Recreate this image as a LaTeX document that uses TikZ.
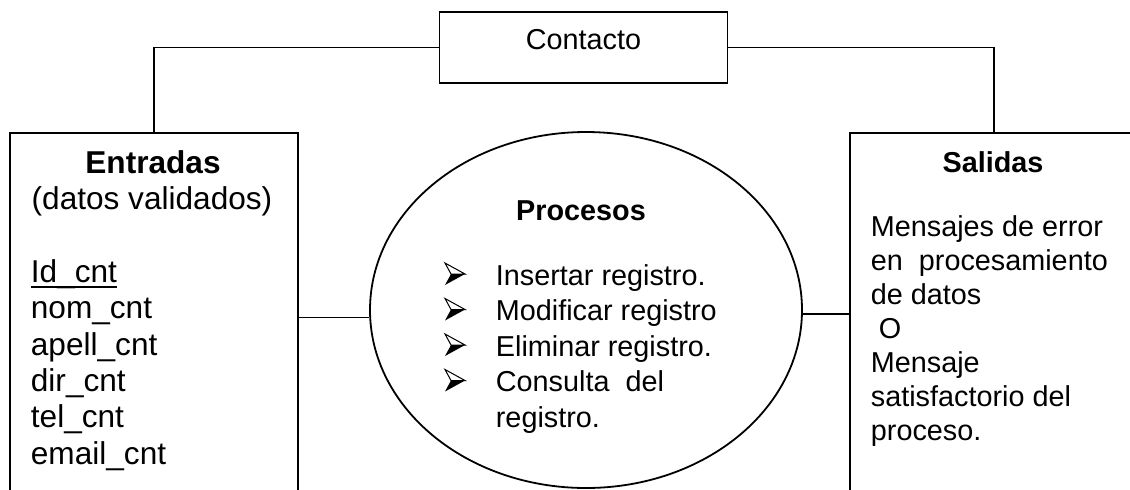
\documentclass[tikz,border=0pt]{standalone}
\usepackage{fontspec}
\setmainfont{Liberation Sans}
\usetikzlibrary{shapes.geometric}

% subrayado grueso como en el original
\newcommand{\subrayar}[1]{\setbox0\hbox{#1}\rlap{\rule[-3.1pt]{\wd0}{1pt}}\box0}

\begin{document}
\begin{tikzpicture}[x=0.5pt, y=-0.5pt, line width=0.9pt,
    caja/.style={draw, rectangle, inner sep=0pt, minimum width=144pt},
    proceso/.style={draw, ellipse, inner sep=0pt, minimum width=216pt, minimum height=178pt},
    titulo/.style={font=\bfseries\fontsize{14.4}{17}\selectfont, anchor=base, inner sep=0pt},
    texto/.style={font=\fontsize{14.4}{17}\selectfont, anchor=base west, inner sep=0pt},
    campo/.style={font=\fontsize{15.8}{18.2}\selectfont, anchor=base west, inner sep=0pt},
    flecha/.pic={
      \draw[line width=0.5pt, line join=miter] (10,0) -- (-10,-11) -- (-4,0) -- cycle;
      \fill (10,0) -- (-4,0) -- (-10,11) -- cycle;
    }]
  \useasboundingbox (0,0) rectangle (1130,489);
  \clip (0,0) rectangle (1130,489);

  % cajas y proceso
  \node[caja, minimum height=35.5pt, font=\fontsize{14.4}{17}\selectfont, text depth=8pt] (contacto) at (583.5,47.5) {Contacto};
  \node[caja, minimum height=200pt, anchor=north west] (entradas) at (9,132) {};
  \node[caja, minimum height=200pt, anchor=north west] (salidas) at (849,132) {};
  \node[proceso] (procesos) at (586,310) {};

  % conexiones
  \draw (contacto.west) -| (entradas.north);
  \draw (contacto.east) -| (salidas.north);
  \draw (procesos.182) -- (procesos.182 -| entradas.east);
  \draw (procesos.359) -- (procesos.359 -| salidas.west);

  % entradas
  \node[campo, font=\bfseries\fontsize{15.8}{18.2}\selectfont, anchor=base] (tent) at (153,173) {Entradas};
  \node[campo, anchor=base] (datos) at (152,209.4) {(datos validados)};
  \foreach \dato [count=\i from 0] in {\subrayar{Id\_cnt}, nom\_cnt, apell\_cnt, dir\_cnt, tel\_cnt, email\_cnt}
    \node[campo] (ent\i) at (30, 282.2+36.4*\i) {\dato};

  % procesos
  \node[titulo] (tpro) at (581,220) {Procesos};
  \foreach \op [count=\i from 0] in {Insertar registro., Modificar registro, Eliminar registro., Consulta\ \ del}
  {
    \pic (fl\i) at (455, 274+35.5*\i) {flecha};
    \node[texto] (op\i) at (495, 285+35.5*\i) {\op};
  }
  \node[texto] (op4) at (495,427) {registro.};

  % salidas
  \node[titulo] (tsal) at (993,172) {Salidas};
  \foreach \linea [count=\i from 0] in {Mensajes de error, en\ \ procesamiento, de datos, \ O, Mensaje, satisfactorio del, proceso.}
    \node[texto] (sal\i) at (870, 236+34*\i) {\linea};
\end{tikzpicture}
\end{document}
